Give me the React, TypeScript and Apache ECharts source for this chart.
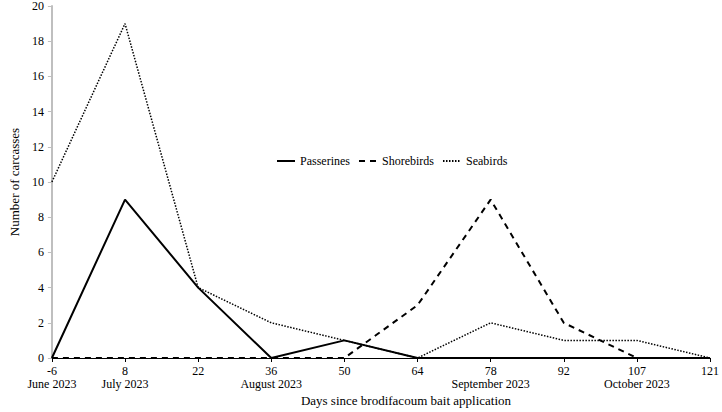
import React, { useEffect, useRef } from "react";
import * as echarts from "echarts";

const days = ["-6", "8", "22", "36", "50", "64", "78", "92", "107", "121"];
const months = ["June 2023", "July 2023", "", "August 2023", "", "", "September 2023", "", "October 2023", ""];
const passerines = [0, 9, 4, 0, 1, 0, 0, 0, 0, 0];
const shorebirds = [0, 0, 0, 0, 0, 3, 9, 2, 0, 0];
const seabirds = [10, 19, 4, 2, 1, 0, 2, 1, 1, 0];
const yTicks = { min: 0, max: 20, interval: 2 };

const FONT = "Liberation Serif";

export default function App() {
  const ref = useRef<HTMLDivElement>(null);
  useEffect(() => {
    if (!ref.current) return;
    const chart = echarts.init(ref.current, undefined, { renderer: "svg" });
    const line = (name: string, data: number[], type: any, width: number) => ({
      name,
      type: "line",
      data,
      symbol: "none",
      lineStyle: { color: "#000", width, type },
      itemStyle: { color: "#000" },
    });
    const labelBase = { interval: 0, fontFamily: FONT, fontSize: 12, color: "#000" };
    chart.setOption({
      animation: false,
      textStyle: { fontFamily: FONT },
      grid: { left: 38, right: 10, top: 6, bottom: 53 },
      legend: {
        top: 150,
        left: 271,
        itemWidth: 18,
        itemHeight: 10,
        itemGap: 8,
        itemStyle: { opacity: 0 },
        textStyle: { fontFamily: FONT, fontSize: 12, color: "#000" },
        data: ["Passerines", "Shorebirds", "Seabirds"],
      },
      xAxis: [
        {
          type: "category",
          data: days,
          boundaryGap: false,
          name: "Days since brodifacoum bait application",
          nameLocation: "middle",
          nameGap: 36,
          nameTextStyle: { fontFamily: FONT, fontSize: 13, color: "#000", padding: [0, 0, 0, 50] },
          axisLine: { lineStyle: { color: "#000", width: 1 } },
          axisTick: { show: true, length: 4, lineStyle: { color: "#000" } },
          axisLabel: { ...labelBase, margin: 7 },
        },
        {
          type: "category",
          data: days,
          boundaryGap: false,
          position: "bottom",
          axisLine: { show: false },
          axisTick: { show: false },
          axisLabel: { ...labelBase, margin: 20, formatter: (_v: string, i: number) => months[i] },
        },
      ],
      yAxis: {
        type: "value",
        min: yTicks.min,
        max: yTicks.max,
        interval: yTicks.interval,
        name: "Number of carcasses",
        nameLocation: "middle",
        nameGap: 29,
        nameTextStyle: { fontFamily: FONT, fontSize: 13, color: "#000" },
        axisLine: { show: true, lineStyle: { color: "#bfbfbf", width: 2 } },
        axisTick: { show: true, length: 4, lineStyle: { color: "#bfbfbf" } },
        splitLine: { show: false },
        axisLabel: { fontFamily: FONT, fontSize: 12, color: "#000", margin: 8 },
      },
      series: [
        line("Passerines", passerines, "solid", 2),
        line("Shorebirds", shorebirds, [6, 5], 2),
        line("Seabirds", seabirds, [1.5, 1.5], 1.5),
      ],
    });
    return () => chart.dispose();
  }, []);
  return <div ref={ref} style={{ position: "absolute", left: 0, top: 0, width: 722, height: 412 }} />;
}
